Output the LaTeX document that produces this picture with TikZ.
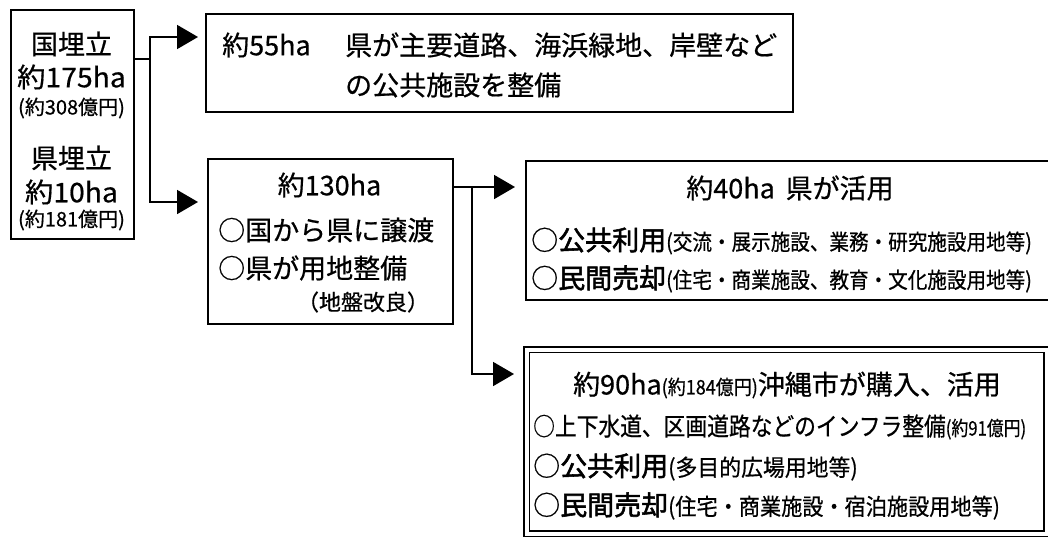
\documentclass[tikz,border=0pt]{standalone}
\usepackage{fontspec}
\setmainfont{Noto Sans CJK JP}[FakeBold=0.6]
\newfontfamily\jpb{Noto Sans CJK JP}[FakeBold=2]
\usetikzlibrary{arrows.meta}
\newcommand\fs[1]{\fontsize{#1}{#1}\selectfont}
\newcommand\cnd[2][0.85]{\scalebox{#1}[1]{#2}}
\begin{document}
\begin{tikzpicture}[x=1pt,y=-1pt,
  box/.style={draw, line width=1.8pt, inner sep=0pt, anchor=north west},
  txt/.style={inner sep=0pt, font=\fs{27}},
  arr/.style={-{Triangle[length=21pt,width=24pt]}, line width=1.8pt},
  ln/.style={line width=1.8pt}]
\useasboundingbox (0,0) rectangle (1048,538);
\fill[white] (0,0) rectangle (1048,538);
% boxes
\node[box, minimum width=123pt, minimum height=229pt] (src) at (10,9) {};
\node[box, minimum width=587pt, minimum height=98pt] (top) at (205,13) {};
\node[box, minimum width=245pt, minimum height=165pt] (mid) at (207,158) {};
\node[box, minimum width=530pt, minimum height=139pt] (b40) at (525,160) {};
\node[box, line width=1.5pt, double, double distance=4pt, minimum width=520pt, minimum height=184pt] (b90) at (526,349) {};
% connectors
\coordinate (j1) at (150,59);
\coordinate (a1) at (198,37);
\coordinate (a2) at (198,202);
\draw[ln] (src.east |- j1) -- (j1);
\draw[arr] (j1) |- (a1);
\draw[arr] (j1) |- (a2);
\coordinate (j2) at (472,187);
\coordinate (a3) at (515,187);
\coordinate (a4) at (514,374);
\draw[ln] (mid.east |- j2) -- (j2);
\draw[arr] (j2) -- (a3);
\draw[arr] (j2) |- (a4);
% source texts
\node[txt] (s1) at (71.5,44) {国埋立};
\node[txt] (s2) at (71.5,77) {\cnd[1.05]{約175ha}};
\node[txt, font=\fs{20}] (s3) at (71.5,108) {(約308億円)};
\node[txt] (s4) at (71.5,158) {県埋立};
\node[txt] (s5) at (71.5,192) {\cnd[1.05]{約10ha}};
\node[txt, font=\fs{20}] (s6) at (71.5,220) {(約181億円)};
% top box texts
\node[txt, anchor=west] (t1) at (222,45) {約55ha};
\node[txt, anchor=west] (t2) at (345,45) {県が主要道路、海浜緑地、岸壁など};
\node[txt, anchor=west] (t3) at (345,85) {の公共施設を整備};
% mid box texts
\node[txt] (m1) at (329.5,185) {約130ha};
\node[txt, anchor=west] (m2) at (218,230) {○国から県に譲渡};
\node[txt, anchor=west] (m3) at (218,268) {○県が用地整備};
\node[txt, font=\fs{22}] (m4) at (363,302) {（地盤改良）};
% 40ha box texts
\node[txt] (f1) at (790,188) {約40ha\hspace{0.4em}県が活用};
\node[txt, anchor=west] (f2) at (531,241) {○{\jpb 公共利用}{\fs{22}\cnd[0.89]{(交流・展示施設、業務・研究施設用地等)}}};
\node[txt, anchor=west] (f3) at (531,279) {○{\jpb 民間売却}{\fs{22}\cnd[0.89]{(住宅・商業施設、教育・文化施設用地等)}}};
% 90ha box texts
\node[txt] (n1) at (787,385) {約90ha{\fs{20}\cnd[0.9]{(約184億円)}}沖縄市が購入、活用};
\node[txt, anchor=west] (n2) at (533,427) {\fs{25}\cnd[0.87]{○上下水道、区画道路などのインフラ整備}{\fs{20}\cnd[0.84]{(約91億円)}}};
\node[txt, anchor=west] (n3) at (533,467) {○{\jpb 公共利用}{\fs{23}\cnd[0.95]{(多目的広場用地等)}}};
\node[txt, anchor=west] (n4) at (533,506) {○{\jpb 民間売却}{\fs{23}\cnd[0.92]{(住宅・商業施設・宿泊施設用地等)}}};
\end{tikzpicture}
\end{document}
